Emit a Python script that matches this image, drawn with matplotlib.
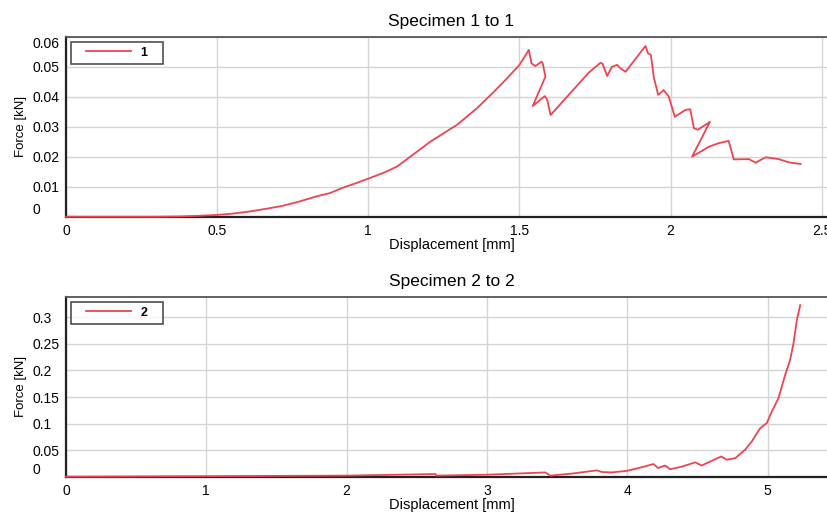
import numpy as np
import matplotlib.pyplot as plt
from matplotlib.legend_handler import HandlerLine2D

plt.rcParams['font.family'] = ['Liberation Sans', 'DejaVu Sans']

# specimen 1: displacement [mm], force [kN]
disp_1 = [0.0, 0.3, 0.38, 0.44, 0.5, 0.55, 0.605, 0.66, 0.715, 0.77, 0.826, 0.874, 0.914,
          0.96, 1.0, 1.05, 1.095, 1.139, 1.205, 1.293, 1.359, 1.41, 1.454, 1.5, 1.531,
          1.540, 1.553, 1.573, 1.577, 1.586, 1.544, 1.584, 1.592, 1.603, 1.729, 1.768,
          1.775, 1.790, 1.806, 1.823, 1.835, 1.851, 1.917, 1.925, 1.935, 1.944, 1.959,
          1.977, 1.994, 2.014, 2.049, 2.065, 2.077, 2.090, 2.126, 2.130, 2.071, 2.126,
          2.159, 2.192, 2.203, 2.209, 2.259, 2.281, 2.314, 2.358, 2.391, 2.430]
force_1 = [0.0, 0.0, 0.0001, 0.0003, 0.0006, 0.001, 0.0017, 0.0026, 0.0036, 0.005, 0.0067,
           0.0079, 0.0096, 0.0112, 0.0127, 0.0146, 0.0167, 0.0200, 0.0250, 0.0306, 0.0361,
           0.0411, 0.0456, 0.0506, 0.0556, 0.0511, 0.0502, 0.0517, 0.0511, 0.0467, 0.0369,
           0.0402, 0.0389, 0.0339, 0.048, 0.0513, 0.0510, 0.0469, 0.050, 0.0506, 0.0494,
           0.0483, 0.0569, 0.0545, 0.0539, 0.0467, 0.0406, 0.0422, 0.0400, 0.0333, 0.0356,
           0.0358, 0.0295, 0.0290, 0.0313, 0.0316, 0.0200, 0.0233, 0.0245, 0.0253, 0.0213,
           0.0191, 0.0192, 0.018, 0.0198, 0.0192, 0.0181, 0.0176]

# specimen 2
disp_2 = [0.0, 1.0, 2.0, 2.633, 2.64, 3.0, 3.417, 3.45, 3.606, 3.784, 3.82, 3.891, 3.998,
          4.081, 4.188, 4.22, 4.271, 4.306, 4.39, 4.485, 4.53, 4.603, 4.67, 4.71, 4.77,
          4.84, 4.888, 4.948, 4.995, 5.031, 5.078, 5.126, 5.161, 5.185, 5.209, 5.233]
force_2 = [0.0, 0.001, 0.002, 0.005, 0.002, 0.0037, 0.008, 0.002, 0.0058, 0.0119, 0.0088,
           0.008, 0.011, 0.0163, 0.0238, 0.0163, 0.021, 0.014, 0.019, 0.027, 0.021, 0.030,
           0.038, 0.032, 0.035, 0.0507, 0.0664, 0.0915, 0.101, 0.123, 0.148, 0.192, 0.220,
           0.251, 0.295, 0.323]

x_ticks_1 = [0, 0.5, 1, 1.5, 2, 2.5]
y_ticks_1 = [0, 0.01, 0.02, 0.03, 0.04, 0.05, 0.06]
x_ticks_2 = [0, 1, 2, 3, 4, 5]
y_ticks_2 = [0, 0.05, 0.1, 0.15, 0.2, 0.25, 0.3]

LINE_COLOR = '#ee4450'
GRID_COLOR = '#d4d4d4'

fig = plt.figure(figsize=(8.28, 5.14), dpi=100)
ax1 = fig.add_axes([0.0797, 0.5784, 0.931, 0.3502])
ax2 = fig.add_axes([0.0797, 0.0726, 0.932, 0.3502])

panels = [
    (ax1, disp_1, force_1, '1', 'Specimen 1 to 1', x_ticks_1, y_ticks_1, (0, 2.55), (0, 0.06)),
    (ax2, disp_2, force_2, '2', 'Specimen 2 to 2', x_ticks_2, y_ticks_2, (0, 5.5), (0, 0.339)),
]

for ax, xs, ys, name, title, xt, yt, xl, yl in panels:
    ax.plot(xs, ys, color=LINE_COLOR, lw=1.3, label=name, clip_on=False, zorder=3)
    ax.set_xlim(*xl)
    ax.set_ylim(*yl)
    ax.set_xticks(xt)
    ax.set_yticks(yt)
    ax.set_xticklabels([f'{v:g}' for v in xt])
    ax.set_yticklabels([f'{v:g}' for v in yt])
    ax.grid(True, color=GRID_COLOR, lw=1)
    ax.set_axisbelow(True)
    ax.tick_params(length=0, labelsize=10)
    ax.tick_params(axis='x', pad=5)
    ax.tick_params(axis='y', pad=24)
    for lab in ax.get_yticklabels():
        lab.set_ha('left')
    labs = ax.get_yticklabels()
    labs[0].set_va('bottom')
    if yt[-1] >= yl[1] - 1e-9:
        labs[-1].set_va('top')
    for side in ['left', 'bottom']:
        ax.spines[side].set_color('#222222')
        ax.spines[side].set_linewidth(1.6)
    ax.spines['top'].set_color('#555555')
    ax.spines['top'].set_linewidth(1.3)
    ax.spines['right'].set_visible(False)
    ax.set_title(title, fontsize=12.5, pad=8)
    ax.set_xlabel('Displacement [mm]', fontsize=10.5)
    ax.xaxis.set_label_coords(0.5, -0.12)
    ax.set_ylabel('Force [kN]', fontsize=9.5)
    ax.yaxis.set_label_coords(-0.05, 0.5)
    leg = ax.legend(loc='upper left', fontsize=9, frameon=True, fancybox=False,
                    borderpad=0.4, borderaxespad=0.4, handlelength=4.4, handletextpad=0.8,
                    handler_map={plt.Line2D: HandlerLine2D(xpad=0.8)},
                    prop={'weight': 'bold', 'size': 9})
    leg.get_frame().set_edgecolor('#222222')
    leg.get_frame().set_linewidth(1.2)
    leg.get_texts()[0].set_text(name + '   ')

fig.savefig('out.png', dpi=100)
